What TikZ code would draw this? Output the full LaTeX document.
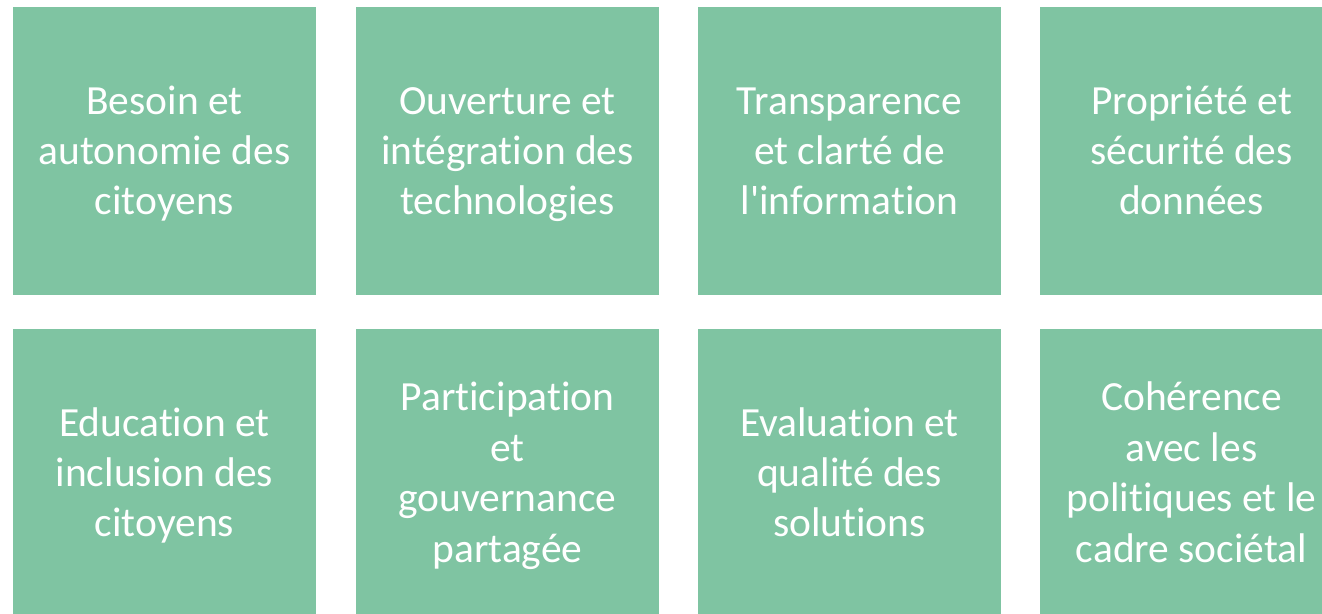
\documentclass[tikz,border=0pt]{standalone}
\usepackage{fontspec}
\usepackage{xcolor}
\usepackage{tikz}
\newfontfamily\cartefont[Ligatures=NoCommon]{Carlito}
\definecolor{cartecolor}{HTML}{7fc4a2}
\newcommand{\haut}{\rule{0pt}{22.4pt}}

\begin{document}
\begin{tikzpicture}%
\tikzset{carte/.style={rectangle, fill=cartecolor, minimum width=6.06cm, minimum height=5.76cm, inner sep=0pt, align=center, text=white, text depth=7pt, font=\cartefont\fontsize{23.6pt}{28.7pt}\selectfont}}%
\useasboundingbox (0,0) rectangle (26.44,-12.28);%
\clip (0,0) rectangle (26.44,-12.28);%
\node[carte] (besoin) at (3.29, -3.02) {\haut Besoin et\\autonomie des\\citoyens};%
\node[carte] (ouverture) at (10.15, -3.02) {\haut Ouverture et\\intégration des\\technologies};%
\node[carte] (transparence) at (16.99, -3.02) {\haut Transparence\\et clarté de\\l'information};%
\node[carte] (propriete) at (23.83, -3.02) {\haut Propriété et\\sécurité des\\données};%
\node[carte] (education) at (3.29, -9.46) {\haut Education et\\inclusion des\\citoyens};%
\node[carte] (participation) at (10.15, -9.46) {\haut Participation\\et\\gouvernance\\partagée};%
\node[carte] (evaluation) at (16.99, -9.46) {\haut Evaluation et\\qualité des\\solutions};%
\node[carte] (coherence) at (23.83, -9.46) {\haut Cohérence\\avec les\\politiques et le\\cadre sociétal};%
\end{tikzpicture}
\end{document}
